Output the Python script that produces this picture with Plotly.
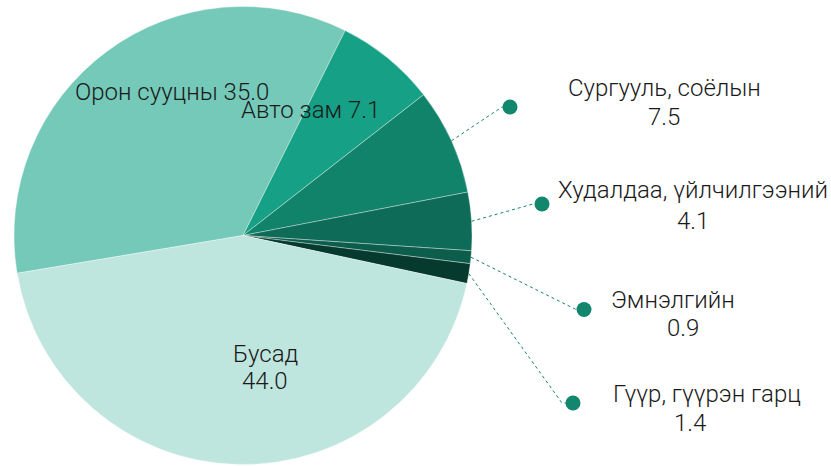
import math
import plotly.graph_objects as go

# ---- data ----
labels = ["Орон сууцны", "Авто зам", "Сургууль, соёлын", "Худалдаа, үйлчилгээний",
          "Эмнэлгийн", "Гүүр, гүүрэн гарц", "Бусад"]
values = [35.0, 7.1, 7.5, 4.1, 0.9, 1.4, 44.0]
colors = ["#74C9B8", "#16A085", "#12836B", "#0E6B58", "#0C5D4C", "#063A2F", "#BFE6DE"]

W, H = 831, 466
CX, CY, R = 243, 235.5, 229
ROT = 260.5
FONT = "Roboto"
TXT = "#1a1a1a"
LEAD = "#13866E"
FS = 24


def px(x):
    return x / W


def py(y):
    return 1 - y / H


fig = go.Figure(go.Pie(
    labels=labels, values=values, sort=False, direction="clockwise",
    rotation=ROT - 360,
    marker=dict(colors=colors, line=dict(color="rgba(255,255,255,0.45)", width=0.8)),
    textinfo="none", hoverinfo="label+value", showlegend=False,
    domain=dict(x=[px(CX - R), px(CX + R)], y=[max(0, py(CY + R)), min(1, py(CY - R))]),
))

# mid angles of slices (clockwise from 12 o'clock), from the data
total = sum(values)
mids = {}
a = ROT
for lab, v in zip(labels, values):
    span = 360 * v / total
    mids[lab] = a + span / 2
    a += span


def edge(lab):
    t = math.radians(mids[lab])
    return CX + R * math.sin(t), CY - R * math.cos(t)


annotations = []
shapes = []


def ann(text, x, y, size=FS):
    annotations.append(dict(text=text, x=px(x), y=py(y), xref="paper", yref="paper",
                            showarrow=False, xanchor="center", yanchor="middle",
                            font=dict(family=FONT, size=size, color=TXT, weight=300)))


# inside labels
ann(f"{labels[0]} {values[0]:.1f}", 171.5, 92)
ann(f"{labels[1]} {values[1]:.1f}", 310, 110)
ann(labels[6], 265, 354)
ann(f"{values[6]:.1f}", 265, 381)

# outside labels with leader lines and dots: (label idx, bend point, dot, name pos, value pos)
outside = [
    (2, (502, 107), (510, 107), (664, 88), (664, 117)),
    (3, (533, 204), (542, 204), (693, 190), (693, 221)),
    (4, (577, 310), (584, 309.5), (673, 300), (683, 328)),
    (5, (562, 403), (573, 403), (707, 394), (690, 423)),
]
for idx, bend, dot, npos, vpos in outside:
    lab = labels[idx]
    ex, ey = edge(lab)
    shapes.append(dict(type="path", xref="paper", yref="paper",
                       path=f"M {px(ex)} {py(ey)} L {px(bend[0])} {py(bend[1])} L {px(dot[0])} {py(dot[1])}",
                       line=dict(color=LEAD, width=1, dash="dot")))
    r = 7.5
    shapes.append(dict(type="circle", xref="paper", yref="paper",
                       x0=px(dot[0] - r), x1=px(dot[0] + r), y0=py(dot[1] + r), y1=py(dot[1] - r),
                       fillcolor=LEAD, line=dict(width=0)))
    ann(lab, *npos)
    ann(f"{values[idx]:.1f}", *vpos)

fig.update_layout(width=W, height=H, margin=dict(l=0, r=0, t=0, b=0),
                  paper_bgcolor="white", plot_bgcolor="white",
                  annotations=annotations, shapes=shapes)
fig.write_html("out.html", config={"displayModeBar": False},
               post_script="document.body.style.margin='0';")
